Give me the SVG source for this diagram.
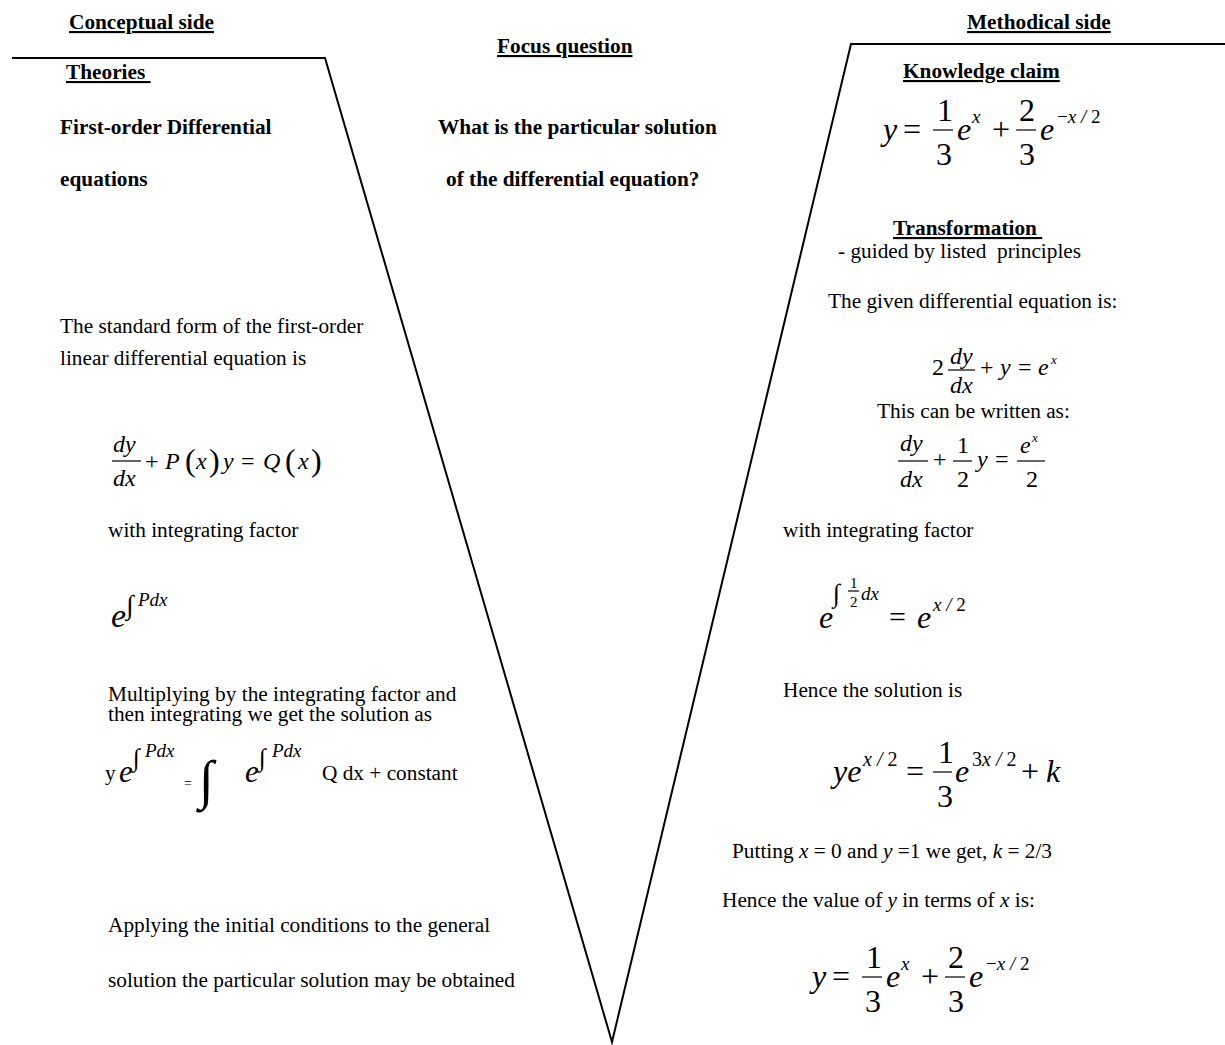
<svg xmlns="http://www.w3.org/2000/svg" width="1225" height="1045" viewBox="0 0 1225 1045">
<style>
text{font-family:"Liberation Serif","Times New Roman",serif;fill:#000;}
.t{font-size:21.3px;}
.h{font-size:21.3px;font-weight:bold;}
.u{text-decoration:underline;white-space:pre;}
.pre{white-space:pre;}
.i{font-style:italic;}
.bar{stroke:#000;stroke-width:1.2;}
.frame{stroke:#000;stroke-width:2;fill:none;}
</style>
<rect width="1225" height="1045" fill="#fff"/>
<g id="connectors">
<polyline class="frame" points="12,58 325,58 612,1042 851,44 1225,44"/>
</g>
<g id="headers">
<text class="h u" x="69" y="29">Conceptual side</text>
<text class="h u" x="497" y="53">Focus question</text>
<text class="h u" x="967" y="29">Methodical side</text>
</g>
<g id="theories">
<text class="h u" x="66" y="79">Theories </text>
<text class="h" x="60" y="134">First-order Differential</text>
<text class="h" x="60" y="186">equations</text>
</g>
<g id="focus-question">
<text class="h" x="438" y="134">What is the particular solution</text>
<text class="h" x="446" y="186">of the differential equation?</text>
</g>
<g id="knowledge-claim">
<text class="h u" x="903" y="78">Knowledge claim</text>
<g font-size="32">
<text class="i" x="883" y="140">y</text>
<text x="903" y="140">=</text>
<text x="937" y="121">1</text>
<line class="bar" x1="933" y1="130" x2="953" y2="130"/>
<text x="936" y="165">3</text>
<text class="i" x="957" y="140">e</text>
<text class="i" x="972" y="123" font-size="19">x</text>
<text x="992" y="140">+</text>
<text x="1019" y="121">2</text>
<line class="bar" x1="1016" y1="130" x2="1036" y2="130"/>
<text x="1019" y="165">3</text>
<text class="i" x="1040" y="140">e</text>
<text class="pre" x="1057" y="123" font-size="19">−<tspan class="i">x / </tspan>2</text>
</g>
</g>
<g id="concepts">
<text class="t" x="60" y="333">The standard form of the first-order</text>
<text class="t" x="60" y="365">linear differential equation is</text>
<g font-size="24">
<text class="i" x="113" y="452">dy</text>
<line class="bar" x1="112" y1="461" x2="141" y2="461"/>
<text class="i" x="113" y="486">dx</text>
<text x="145" y="469">+</text>
<text class="i" x="165" y="469">P</text>
<text x="185" y="471" font-size="32">(</text>
<text class="i" x="196" y="469">x</text>
<text x="209" y="471" font-size="32">)</text>
<text class="i" x="223" y="469">y</text>
<text x="241" y="469">=</text>
<text class="i" x="263" y="469">Q</text>
<text x="285" y="471" font-size="32">(</text>
<text class="i" x="298" y="469">x</text>
<text x="311" y="471" font-size="32">)</text>
</g>
<text class="t" x="108" y="537">with integrating factor</text>
<text class="i" x="111" y="627" font-size="34">e</text>
<text x="126" y="614" font-size="27">∫</text>
<text class="i" x="138" y="606" font-size="19">Pdx</text>
<text class="t" x="108" y="701">Multiplying by the integrating factor and</text>
<text class="t" x="108" y="721">then integrating we get the solution as</text>
<text class="t" x="105" y="780">y</text>
<text class="i" x="119" y="782" font-size="31">e</text>
<text x="133" y="766" font-size="25">∫</text>
<text class="i" x="145" y="757" font-size="19">Pdx</text>
<text x="184" y="788" font-size="14">=</text>
<text x="199" y="798" font-size="54">∫</text>
<text class="i" x="245" y="782" font-size="31">e</text>
<text x="259" y="766" font-size="25">∫</text>
<text class="i" x="272" y="757" font-size="19">Pdx</text>
<text class="t" x="322" y="780">Q dx + constant</text>
<text class="t" x="108" y="932">Applying the initial conditions to the general</text>
<text class="t" x="108" y="987">solution the particular solution may be obtained</text>
</g>
<g id="transformation">
<text class="h u" x="893" y="235">Transformation </text>
<text class="t pre" x="838" y="258">- guided by listed  principles</text>
<text class="t" x="828" y="308">The given differential equation is:</text>
<g font-size="24">
<text x="932" y="375">2</text>
<text class="i" x="950" y="364">dy</text>
<line class="bar" x1="948" y1="370" x2="975" y2="370"/>
<text class="i" x="950" y="393">dx</text>
<text x="980" y="375">+</text>
<text class="i" x="1000" y="375">y</text>
<text x="1018" y="375">=</text>
<text class="i" x="1038" y="375">e</text>
<text class="i" x="1051" y="364" font-size="13">x</text>
</g>
<text class="t" x="877" y="418">This can be written as:</text>
<g font-size="24">
<text class="i" x="900" y="451">dy</text>
<line class="bar" x1="898" y1="461" x2="928" y2="461"/>
<text class="i" x="900" y="487">dx</text>
<text x="933" y="467">+</text>
<text x="957" y="453">1</text>
<line class="bar" x1="953" y1="461" x2="972" y2="461"/>
<text x="957" y="487">2</text>
<text class="i" x="977" y="467">y</text>
<text x="995" y="467">=</text>
<text class="i" x="1020" y="453">e</text>
<text class="i" x="1032" y="442" font-size="13">x</text>
<line class="bar" x1="1017" y1="461" x2="1045" y2="461"/>
<text x="1026" y="487">2</text>
</g>
<text class="t" x="783" y="537">with integrating factor</text>
<text class="i" x="819" y="628" font-size="32">e</text>
<text x="833" y="602" font-size="26">∫</text>
<text x="850" y="588" font-size="15">1</text>
<line class="bar" x1="848" y1="591" x2="859" y2="591"/>
<text x="850" y="607" font-size="15">2</text>
<text class="i" x="861" y="600" font-size="19">dx</text>
<text x="889" y="627" font-size="30">=</text>
<text class="i" x="917" y="628" font-size="32">e</text>
<text class="pre" x="933" y="611" font-size="19"><tspan class="i">x / </tspan>2</text>
<text class="t" x="783" y="697">Hence the solution is</text>
<g font-size="32">
<text class="i" x="833" y="782">ye</text>
<text class="pre" x="863" y="766" font-size="20"><tspan class="i">x / </tspan>2</text>
<text x="906" y="782">=</text>
<text x="938" y="763">1</text>
<line class="bar" x1="933" y1="772" x2="952" y2="772"/>
<text x="937" y="807">3</text>
<text class="i" x="955" y="782">e</text>
<text class="pre" x="972" y="766" font-size="20">3<tspan class="i">x / </tspan>2</text>
<text x="1021" y="782">+</text>
<text class="i" x="1046" y="782">k</text>
</g>
<text class="t" x="732" y="858">Putting <tspan class="i">x</tspan> = 0 and <tspan class="i">y</tspan> =1 we get, <tspan class="i">k</tspan> = 2/3</text>
<text class="t" x="722" y="907">Hence the value of <tspan class="i">y</tspan> in terms of <tspan class="i">x</tspan> is:</text>
<g font-size="32">
<text class="i" x="812" y="987">y</text>
<text x="832" y="987">=</text>
<text x="866" y="968">1</text>
<line class="bar" x1="862" y1="977" x2="882" y2="977"/>
<text x="865" y="1012">3</text>
<text class="i" x="886" y="987">e</text>
<text class="i" x="901" y="970" font-size="19">x</text>
<text x="921" y="987">+</text>
<text x="948" y="968">2</text>
<line class="bar" x1="945" y1="977" x2="965" y2="977"/>
<text x="948" y="1012">3</text>
<text class="i" x="969" y="987">e</text>
<text class="pre" x="986" y="970" font-size="19">−<tspan class="i">x / </tspan>2</text>
</g>
</g>
</svg>
